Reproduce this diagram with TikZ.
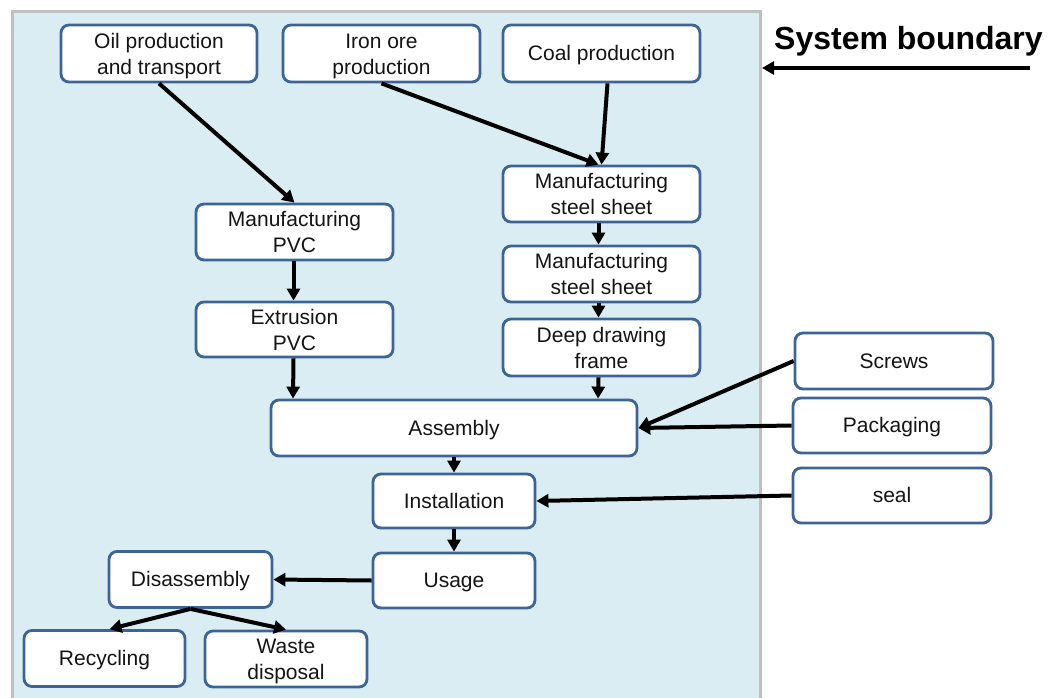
\documentclass[tikz,border=0pt]{standalone}
\usepackage{fontspec}
\setmainfont{Liberation Sans}
\usetikzlibrary{arrows.meta}
\definecolor{bgblue}{RGB}{218,237,243}
\definecolor{framegray}{RGB}{191,191,191}
\definecolor{boxblue}{RGB}{60,100,150}
\definecolor{txt}{RGB}{20,20,20}
\begin{document}
\begin{tikzpicture}[x=1pt,y=-1pt,
  box/.style={draw=boxblue, line width=2.8pt, fill=white, rounded corners=8pt,
    align=center, inner sep=0pt, text=txt,
    font=\fontsize{21}{26}\selectfont},
  oneline/.style={box, text height=19pt, text depth=4.45pt},
  twoline/.style={box, text height=45.5pt, text depth=4.45pt},
  flow/.style={line width=4pt, draw=black,
    -{Triangle[length=12pt,width=13pt]}}]
\useasboundingbox (0,0) rectangle (1054,698);
% system boundary area
\draw[fill=bgblue, draw=framegray, line width=3pt] (12,12) rectangle (760,712);

% process boxes
\node[twoline, minimum width=196, minimum height=57] (oil)   at (159,53.5)   {Oil production\\and transport};
\node[twoline, minimum width=197, minimum height=57] (iron)  at (381.5,53.5) {Iron ore\\production};
\node[oneline, minimum width=197, minimum height=57] (coal)  at (601.5,53.5) {Coal production};
\node[twoline, minimum width=197, minimum height=56] (steelA) at (601.5,194) {Manufacturing\\steel sheet};
\node[twoline, minimum width=197, minimum height=56] (steelB) at (601.5,274) {Manufacturing\\steel sheet};
\node[twoline, minimum width=197, minimum height=57] (deep)  at (601.5,347.5) {Deep drawing\\frame};
\node[twoline, minimum width=197, minimum height=56] (pvc)   at (294.5,232)  {Manufacturing\\PVC};
\node[twoline, minimum width=197, minimum height=55] (extr)  at (294.5,329.5) {Extrusion\\PVC};
\node[oneline, minimum width=366, minimum height=56] (asm)   at (454,428)    {Assembly};
\node[oneline, minimum width=162, minimum height=54] (inst)  at (454,501)    {Installation};
\node[oneline, minimum width=162, minimum height=55] (usage) at (454,580.5)  {Usage};
\node[oneline, minimum width=163, minimum height=56] (dis)   at (190.5,579.5) {Disassembly};
\node[oneline, minimum width=161, minimum height=56] (rec)   at (104.5,658.5) {Recycling};
\node[twoline, minimum width=162, minimum height=56] (waste) at (286,659)    {Waste\\disposal};
\node[oneline, minimum width=198, minimum height=56] (screws) at (894,361)   {Screws};
\node[oneline, minimum width=198, minimum height=55] (pack)  at (892,425.5)  {Packaging};
\node[oneline, minimum width=198, minimum height=55] (seal)  at (892,495.5)  {seal};

% boundary label
\node[anchor=west, inner sep=0pt, font=\fontsize{32}{36}\bfseries\selectfont, text=black] (sblabel) at (774,41) {System boundary};
\coordinate (sbfrom) at (1030,68);
\coordinate (sbto) at (762,68);

% material flows
\draw[flow] (oil.south) -- (pvc.north);
\draw[flow] (iron.south) -- ([xshift=-3pt]steelA.north);
\draw[flow] ([xshift=6pt]coal.south) -- (steelA.north);
\draw[flow] ([xshift=-3pt]steelA.south) -- ([xshift=-3pt]steelB.north);
\draw[flow] ([xshift=-3pt]steelB.south) -- ([xshift=-3pt]deep.north);
\draw[flow] ([xshift=-3pt]deep.south) -- ([xshift=144pt]asm.north);
\draw[flow] ([xshift=-1pt]pvc.south) -- ([xshift=-1pt]extr.north);
\draw[flow] ([xshift=-1pt]extr.south) -- ([xshift=-161pt]asm.north);
\draw[flow] (screws.west) -- (asm.east);
\draw[flow] (pack.west) -- (asm.east);
\draw[flow] (asm.south) -- (inst.north);
\draw[flow] (seal.west) -- (inst.east);
\draw[flow] (inst.south) -- (usage.north);
\draw[flow] (usage.west) -- (dis.east);
\draw[flow] (dis.south) -- ([xshift=5pt]rec.north);
\draw[flow] (dis.south) -- (waste.north);
\draw[flow] (sbfrom) -- (sbto);
\end{tikzpicture}
\end{document}
